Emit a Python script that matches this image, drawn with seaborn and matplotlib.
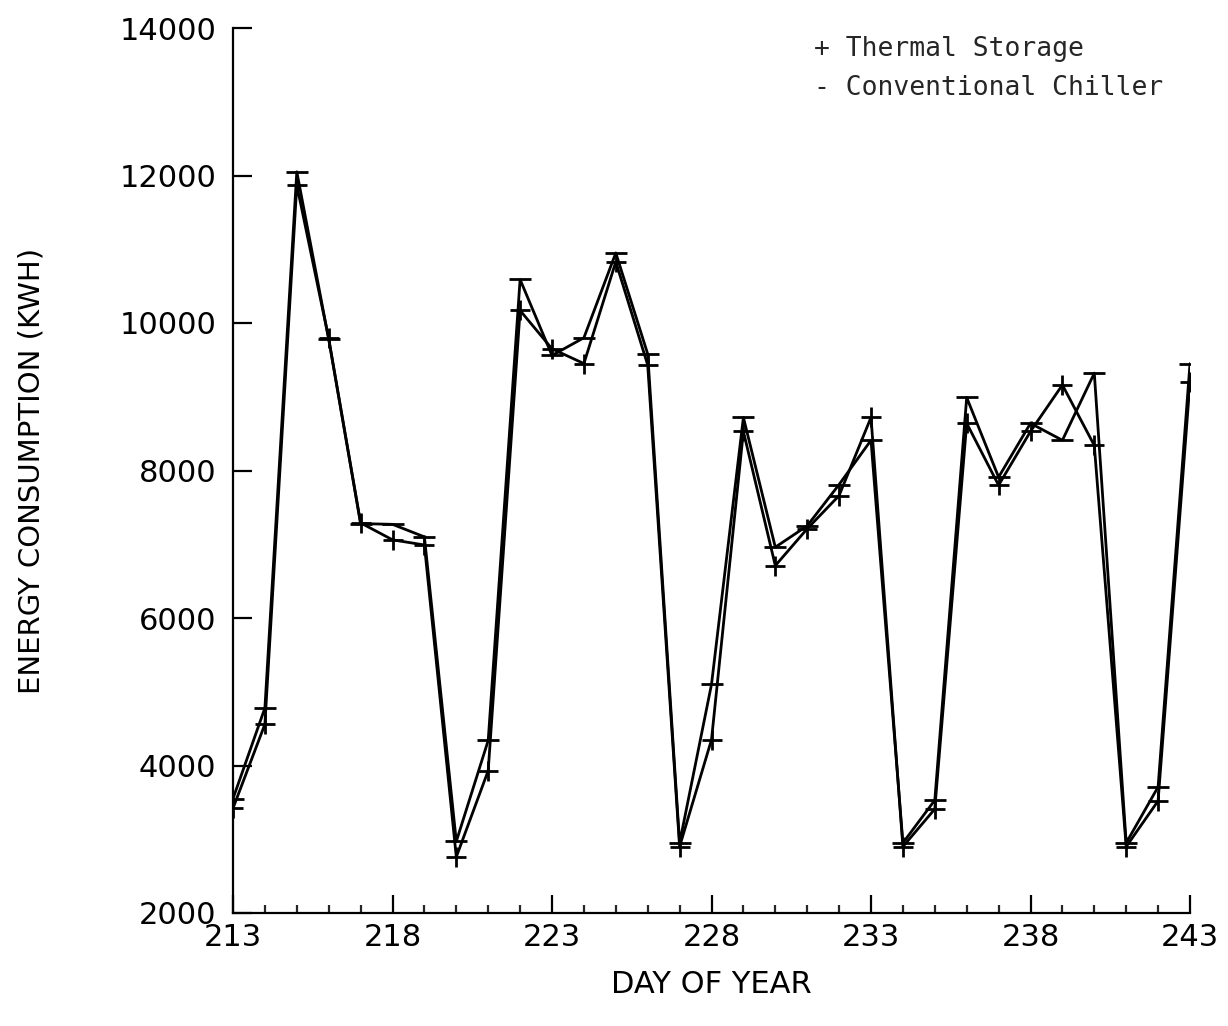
import matplotlib
matplotlib.use("Agg")
import matplotlib.pyplot as plt
import seaborn as sns
import pandas as pd
from matplotlib.ticker import MultipleLocator

days = list(range(213, 244))
thermal_storage = [3420, 4560, 11870, 9790, 7290, 7060, 6990, 2760, 3930, 10170,
                   9650, 9450, 10830, 9430, 2900, 4350, 8530, 6710, 7210, 7660,
                   8720, 2900, 3410, 8640, 7800, 8530, 9160, 8340, 2900, 3520, 9200]
conventional_chiller = [3550, 4780, 12050, 9780, 7280, 7270, 7100, 2970, 4340, 10590,
                        9560, 9800, 10950, 9580, 2950, 5100, 8720, 6960, 7250, 7810,
                        8410, 2950, 3530, 8990, 7910, 8640, 8410, 9320, 2950, 3710, 9450]
y_ticks = [2000, 4000, 6000, 8000, 10000, 12000, 14000]
x_ticks = [213, 218, 223, 228, 233, 238, 243]
legend_labels = ["+ Thermal Storage", "- Conventional Chiller"]

df = pd.DataFrame({"day": days, "thermal": thermal_storage, "conv": conventional_chiller})

sns.set_style("ticks")
plt.rcParams["font.family"] = ["DejaVu Sans"]

fig = plt.figure(figsize=(12.28, 10.26), dpi=100)
ax = fig.add_axes([233 / 1228, 1 - 913 / 1026, (1190 - 233) / 1228, (913 - 28) / 1026])

sns.lineplot(data=df, x="day", y="thermal", ax=ax, color="black", lw=2.0,
             marker="+", markersize=15, markeredgewidth=2.0, markeredgecolor="black")
sns.lineplot(data=df, x="day", y="conv", ax=ax, color="black", lw=2.0,
             marker="_", markersize=16, markeredgewidth=2.0, markeredgecolor="black")

ax.set_xlim(213, 243)
ax.set_ylim(2000, 14000)
ax.set_xticks(x_ticks)
ax.set_xticklabels([str(t) for t in x_ticks])
ax.xaxis.set_minor_locator(MultipleLocator(1))
ax.set_yticks(y_ticks)
ax.set_yticklabels([str(t) for t in y_ticks])

for s in ["top", "right"]:
    ax.spines[s].set_visible(False)
for s in ["left", "bottom"]:
    ax.spines[s].set_linewidth(1.6)
    ax.spines[s].set_color("black")

ax.tick_params(axis="y", which="major", direction="in", length=14, width=1.6,
               labelsize=22, pad=12, colors="black")
ax.tick_params(axis="x", which="major", direction="in", length=13, width=1.6,
               labelsize=22, pad=7, colors="black")
ax.tick_params(axis="x", which="minor", direction="in", length=6, width=1.6)

ax.set_xlabel("DAY OF YEAR", fontsize=22, labelpad=13, color="black")
ax.set_ylabel("ENERGY CONSUMPTION (KWH)", fontsize=21, labelpad=53, color="black")

ax.text(0.607, 0.976, legend_labels[0], transform=ax.transAxes, fontsize=19,
        family="DejaVu Sans Mono", va="center", ha="left")
ax.text(0.607, 0.932, legend_labels[1], transform=ax.transAxes, fontsize=19,
        family="DejaVu Sans Mono", va="center", ha="left")

fig.savefig("out.png", dpi=100, facecolor="white")
